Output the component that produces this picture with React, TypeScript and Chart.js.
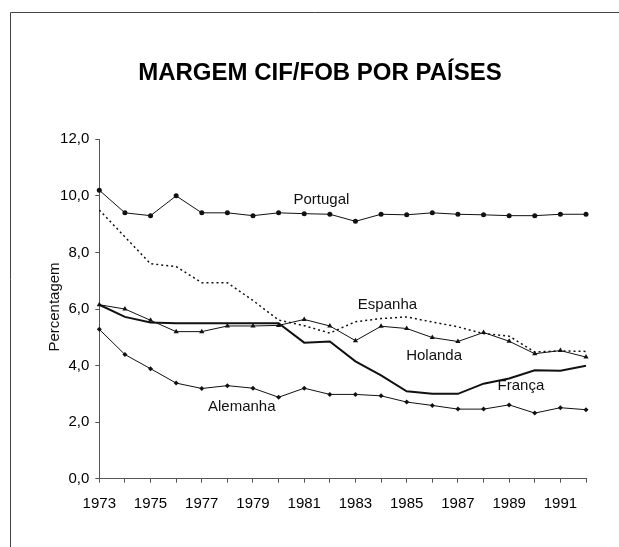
import React, { useEffect, useRef } from "react";
import { Chart, registerables } from "chart.js";

Chart.register(...registerables);

const TITLE = "MARGEM CIF/FOB POR PAÍSES";
const Y_TITLE = "Percentagem";

const years = [
  "1973", "1974", "1975", "1976", "1977", "1978", "1979", "1980", "1981", "1982",
  "1983", "1984", "1985", "1986", "1987", "1988", "1989", "1990", "1991", "1992",
];

const portugal = [10.2, 9.4, 9.3, 10.0, 9.4, 9.4, 9.3, 9.4, 9.37, 9.35, 9.1, 9.35, 9.33, 9.4, 9.35, 9.33, 9.3, 9.3, 9.35, 9.35];
const espanha = [9.5, 8.55, 7.6, 7.5, 6.93, 6.93, 6.3, 5.61, 5.41, 5.15, 5.55, 5.66, 5.72, 5.54, 5.37, 5.13, 5.04, 4.48, 4.52, 4.5];
const holanda = [6.15, 6.0, 5.6, 5.2, 5.2, 5.4, 5.4, 5.42, 5.63, 5.4, 4.88, 5.39, 5.31, 4.99, 4.85, 5.17, 4.86, 4.42, 4.53, 4.3];
const franca = [6.15, 5.72, 5.52, 5.5, 5.5, 5.5, 5.5, 5.5, 4.81, 4.85, 4.15, 3.65, 3.09, 3.0, 3.0, 3.36, 3.54, 3.83, 3.82, 3.99];
const alemanha = [5.28, 4.39, 3.89, 3.38, 3.19, 3.29, 3.2, 2.88, 3.2, 2.98, 2.98, 2.93, 2.71, 2.59, 2.46, 2.46, 2.61, 2.32, 2.51, 2.44];

// series name labels, anchored in data units (category index, value at baseline)
const seriesLabels = [
  { text: "Portugal", x: 8.67, y: 9.73 },
  { text: "Espanha", x: 11.25, y: 6.0 },
  { text: "Holanda", x: 13.07, y: 4.2 },
  { text: "França", x: 16.46, y: 3.12 },
  { text: "Alemanha", x: 5.56, y: 2.4 },
];

const FONT = '"Liberation Sans", Arial, Helvetica, sans-serif';
const INK = "#111";
const AXIS = "#555";

const overlay = {
  id: "overlay",
  beforeDraw(chart: any) {
    const ctx = chart.ctx;
    ctx.save();
    ctx.fillStyle = "#fff";
    ctx.fillRect(0, 0, chart.width, chart.height);
    ctx.strokeStyle = "#444";
    ctx.lineWidth = 1;
    ctx.beginPath();
    ctx.moveTo(10.5, chart.height);
    ctx.lineTo(10.5, 12.5);
    ctx.lineTo(chart.width, 12.5);
    ctx.stroke();
    ctx.restore();
  },
  afterDraw(chart: any) {
    const ctx = chart.ctx;
    const xs = chart.scales.x;
    const ys = chart.scales.y;
    const area = chart.chartArea;
    ctx.save();
    ctx.fillStyle = "#000";
    ctx.textBaseline = "alphabetic";
    ctx.textAlign = "center";
    ctx.font = `bold 24px ${FONT}`;
    ctx.fillText(TITLE, 320, 80);

    ctx.font = `15px ${FONT}`;
    ctx.fillStyle = "#111";
    for (const l of seriesLabels) {
      ctx.fillText(l.text, xs.getPixelForValue(l.x), ys.getPixelForValue(l.y));
    }

    ctx.save();
    ctx.translate(area.left - 40.6, (area.top + area.bottom) / 2 - 2);
    ctx.rotate(-Math.PI / 2);
    ctx.fillText(Y_TITLE, 0, 0);
    ctx.restore();
    ctx.restore();
  },
};

export default function App() {
  const ref = useRef<HTMLCanvasElement | null>(null);
  useEffect(() => {
    if (!ref.current) return;
    const line = (label: string, data: number[], extra: any) => ({
      label,
      data,
      borderColor: INK,
      backgroundColor: INK,
      pointBackgroundColor: INK,
      pointBorderColor: INK,
      pointBorderWidth: 0,
      borderWidth: 1,
      tension: 0,
      fill: false,
      ...extra,
    });
    const chart = new Chart(ref.current, {
      type: "line",
      data: {
        labels: years,
        datasets: [
          line("Portugal", portugal, { pointStyle: "circle", pointRadius: 2.5 }),
          line("Espanha", espanha, { borderDash: [2, 3], borderWidth: 1.5, pointRadius: 0 }),
          line("Holanda", holanda, { pointStyle: "triangle", pointRadius: 3 }),
          line("França", franca, { borderWidth: 2, pointRadius: 0 }),
          line("Alemanha", alemanha, { pointStyle: "rectRot", pointRadius: 2.5 }),
        ],
      },
      options: {
        animation: false,
        responsive: false,
        devicePixelRatio: 1,
        layout: { padding: { top: 139.3, right: 33, bottom: 0, left: 0 } },
        plugins: {
          legend: { display: false },
          title: { display: false },
          tooltip: { enabled: false },
        },
        scales: {
          x: {
            type: "category",
            offset: false,
            afterFit: (s: any) => { s.height = 547 - 478.7; },
            grid: { drawOnChartArea: false, drawTicks: true, tickLength: 4, color: AXIS },
            border: { display: true, color: AXIS, width: 1 },
            ticks: {
              autoSkip: false,
              maxRotation: 0,
              padding: 12,
              color: "#000",
              font: { family: FONT, size: 15 },
              callback: (_v: any, i: number) => (i % 2 === 0 ? years[i] : ""),
            },
          },
          y: {
            min: 0,
            max: 12,
            afterFit: (s: any) => { s.width = 99.3; },
            grid: { drawOnChartArea: false, drawTicks: true, tickLength: 4, color: AXIS },
            border: { display: true, color: AXIS, width: 1 },
            ticks: {
              stepSize: 2,
              padding: 6,
              color: "#000",
              font: { family: FONT, size: 15 },
              callback: (v: any) => Number(v).toFixed(1).replace(".", ","),
            },
          },
        },
      },
      plugins: [overlay],
    });
    return () => chart.destroy();
  }, []);
  return (
    <div style={{ position: "fixed", left: 0, top: 0, width: 619, height: 547, background: "#fff" }}>
      <canvas ref={ref} width={619} height={547} style={{ display: "block" }} />
    </div>
  );
}
